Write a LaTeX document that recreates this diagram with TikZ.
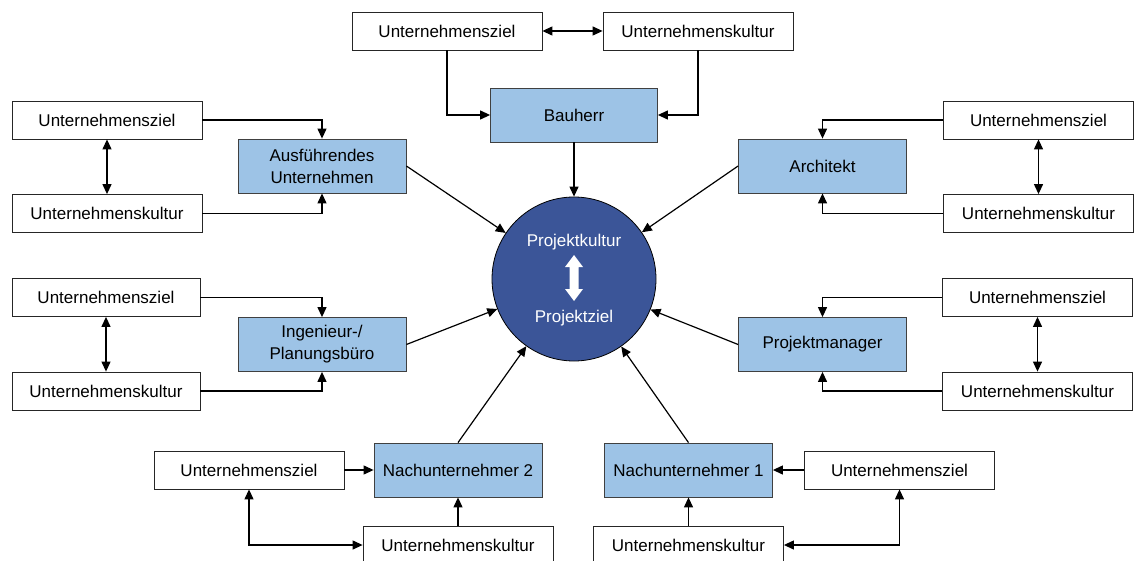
\documentclass[tikz,border=0pt]{standalone}
\usepackage{fontspec}
\setmainfont{Liberation Sans}
\usetikzlibrary{arrows.meta}
\definecolor{partyblue}{HTML}{9DC3E6}
\definecolor{coreblue}{HTML}{3B5598}
\begin{document}
\begin{tikzpicture}[x=1pt,y=-1pt,
  every node/.style={font=\fontsize{17}{22}\selectfont, inner sep=0pt, align=center},
  goalbox/.style={draw=black!85, line width=0.8pt, fill=white, minimum width=190pt, minimum height=38pt},
  partybox/.style={draw=black!75, line width=0.8pt, fill=partyblue, minimum width=168pt, minimum height=54pt},
  link/.style={line width=1.2pt, -{Triangle[length=10pt,width=9pt]}},
  duallink/.style={line width=1.2pt, {Triangle[length=10pt,width=9pt]}-{Triangle[length=10pt,width=9pt]}}
]
\useasboundingbox (0,0) rectangle (1134,561);

% central project circle
\node[circle, draw=black, line width=0.8pt, fill=coreblue, minimum size=164pt] (core) at (574,279) {};
\node[text=white] (pk) at (574,242) {Projektkultur};
\node[text=white] (pz) at (574,318) {Projektziel};
\fill[white] (574,255) -- (583,267) -- (578.5,267) -- (578.5,289) -- (583,289)
  -- (574,301) -- (565,289) -- (569.5,289) -- (569.5,267) -- (565,267) -- cycle;

% Bauherr
\node[partybox, minimum width=167pt] (bau) at (574,115) {Bauherr};
\node[goalbox] (tz) at (447,31) {Unternehmensziel};
\node[goalbox] (tk) at (698,31) {Unternehmenskultur};
\draw[duallink] (tz.east) -- (tk.west);
\draw[link] (tz.south) |- (bau.west);
\draw[link] (tk.south) |- (bau.east);
\draw[link] (bau.south) -- (core);

% Ausfuehrendes Unternehmen
\node[partybox] (aus) at (322,166) {Ausführendes\\Unternehmen};
\node[goalbox] (az) at (107,120) {Unternehmensziel};
\node[goalbox] (ak) at (107,213.5) {Unternehmenskultur};
\draw[duallink] (az.south) -- (ak.north);
\draw[link] (az.east) -| (aus.north);
\draw[link] (ak.east) -| (aus.south);
\draw[link] (aus.east) -- (core);

% Architekt
\node[partybox] (arch) at (822.5,166) {Architekt};
\node[goalbox] (rz) at (1038.5,120) {Unternehmensziel};
\node[goalbox] (rk) at (1038.5,213.5) {Unternehmenskultur};
\draw[duallink] (rz.south) -- (rk.north);
\draw[link] (rz.west) -| (arch.north);
\draw[link] (rk.west) -| (arch.south);
\draw[link] (arch.west) -- (core);

% Ingenieur-/Planungsbuero
\node[partybox] (ing) at (322,344.5) {Ingenieur-/\\Planungsbüro};
\node[goalbox, minimum width=188pt] (iz) at (106,297.5) {Unternehmensziel};
\node[goalbox, minimum width=188pt] (ik) at (106,391) {Unternehmenskultur};
\draw[duallink] (iz.south) -- (ik.north);
\draw[link] (iz.east) -| (ing.north);
\draw[link] (ik.east) -| (ing.south);
\draw[link] (ing.east) -- (core);

% Projektmanager
\node[partybox] (pm) at (822.5,344.5) {Projektmanager};
\node[goalbox] (mz) at (1037.5,297.5) {Unternehmensziel};
\node[goalbox] (mk) at (1037.5,391) {Unternehmenskultur};
\draw[duallink] (mz.south) -- (mk.north);
\draw[link] (mz.west) -| (pm.north);
\draw[link] (mk.west) -| (pm.south);
\draw[link] (pm.west) -- (core);

% Nachunternehmer 2
\node[partybox] (n2) at (458,470) {Nachunternehmer 2};
\node[goalbox] (n2z) at (249,470) {Unternehmensziel};
\node[goalbox] (n2k) at (458,545) {Unternehmenskultur};
\draw[link] (n2z.east) -- (n2.west);
\draw[link] (n2k.north) -- (n2.south);
\draw[duallink] (n2z.south) |- (n2k.west);
\draw[link] (n2.north) -- (core);

% Nachunternehmer 1
\node[partybox] (n1) at (688.5,470) {Nachunternehmer 1};
\node[goalbox] (n1z) at (899.5,470) {Unternehmensziel};
\node[goalbox] (n1k) at (688.5,545) {Unternehmenskultur};
\draw[link] (n1z.west) -- (n1.east);
\draw[link] (n1k.north) -- (n1.south);
\draw[duallink] (n1z.south) |- (n1k.east);
\draw[link] (n1.north) -- (core);
\end{tikzpicture}
\end{document}
